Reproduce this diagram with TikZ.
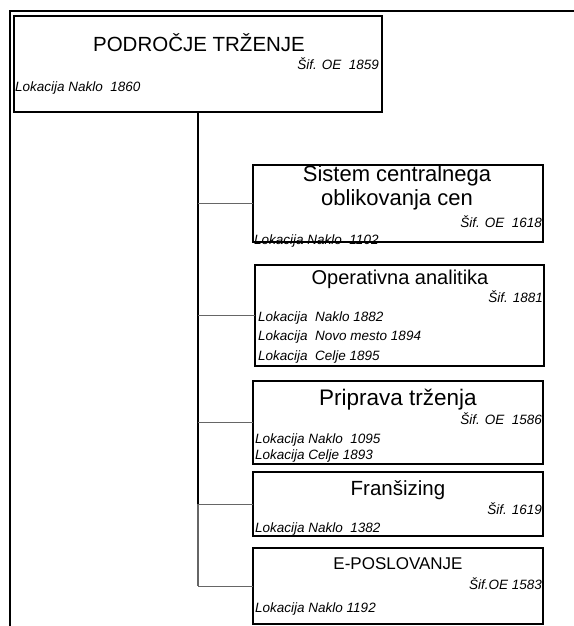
\documentclass[tikz,border=0pt]{standalone}
\usepackage{fontspec}
\setmainfont{Liberation Sans}
\usetikzlibrary{calc}
\begin{document}
\begin{tikzpicture}[x=1pt,y=-1pt,
  unitbox/.style={draw=black, line width=1.4pt, inner sep=0pt, outer sep=0pt},
  headline/.style={inner sep=0pt, anchor=base},
  code/.style={inner sep=0pt, anchor=base east, font=\fontsize{13.5}{16}\selectfont\itshape},
  place/.style={inner sep=0pt, anchor=base west, font=\fontsize{13.5}{16}\selectfont\itshape},
  trunkline/.style={line width=1.6pt, black},
  lowtrunk/.style={line width=1.1pt, black!60},
  branchline/.style={line width=1pt, black!60}]

\useasboundingbox (0,0) rectangle (573,626);

% outer page frame (top and left edges)
\draw[line width=2.5pt] (10,632) -- (10,11) -- (580,11);

% root unit
\node[unitbox, minimum width=368pt, minimum height=96pt] (root) at (198,64) {};
\node[headline, font=\fontsize{20.5}{24}\selectfont] (rt) at (199,52) {PODROČJE TRŽENJE};
\node[code] (rc) at (379,70) {Šif. OE~~1859};
\node[place] (rl) at (15,91) {Lokacija Naklo~~1860};

% sub-units
\node[unitbox, minimum width=290pt, minimum height=77pt] (b1) at (398,203.5) {};
\node[headline, font=\fontsize{22}{25}\selectfont] (t1a) at (397,181) {Sistem centralnega};
\node[headline, font=\fontsize{22}{25}\selectfont] (t1b) at (397,205) {oblikovanja cen};
\node[code] (c1) at (542,227) {Šif. OE~~1618};
\node[place] (l1) at (254,244) {Lokacija Naklo~~1102};

\node[unitbox, minimum width=289pt, minimum height=101pt] (b2) at (399.5,315.5) {};
\node[headline, font=\fontsize{20}{24}\selectfont] (t2) at (400,284) {Operativna analitika};
\node[code] (c2) at (543,302) {Šif. 1881};
\node[place] (l2a) at (258,321) {Lokacija~~Naklo 1882};
\node[place] (l2b) at (258,340) {Lokacija~~Novo mesto 1894};
\node[place] (l2c) at (258,360) {Lokacija~~Celje 1895};

\node[unitbox, minimum width=290pt, minimum height=83pt] (b3) at (398,422.5) {};
\node[headline, font=\fontsize{22.5}{26}\selectfont] (t3) at (398,405) {Priprava trženja};
\node[code] (c3) at (542,424) {Šif. OE~~1586};
\node[place] (l3a) at (255,443) {Lokacija Naklo~~1095};
\node[place] (l3b) at (255,459) {Lokacija Celje 1893};

\node[unitbox, minimum width=290pt, minimum height=64pt] (b4) at (398,504) {};
\node[headline, font=\fontsize{20.5}{24}\selectfont] (t4) at (398,495) {Franšizing};
\node[code] (c4) at (542,514) {Šif. 1619};
\node[place] (l4) at (255,532) {Lokacija Naklo~~1382};

\node[unitbox, minimum width=290pt, minimum height=76pt] (b5) at (398,586) {};
\node[headline, font=\fontsize{17}{20}\selectfont] (t5) at (398,569) {E-POSLOVANJE};
\node[code] (c5) at (542,589) {Šif.OE 1583};
\node[place] (l5) at (255,612) {Lokacija Naklo 1192};

% connectors
\draw[trunkline] (root.south) -- (root.south |- b4.west);
\draw[lowtrunk] (root.south |- b4.west) -- (root.south |- b5.west);
\foreach \b in {b1,b2,b3,b4,b5}
  \draw[branchline] (root.south |- \b.west) -- (\b.west);
\end{tikzpicture}
\end{document}
